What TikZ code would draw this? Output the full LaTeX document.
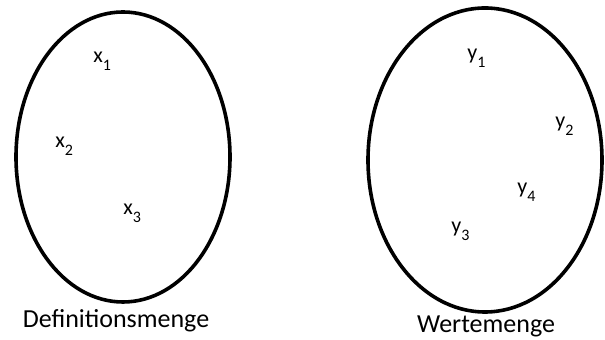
\documentclass[tikz,border=0pt]{standalone}
\usepackage{fontspec}
\setmainfont{Carlito}
\usepackage{xcolor}
\usepackage{tikz}
\usetikzlibrary{positioning}
\definecolor{ink}{HTML}{000000}
\definecolor{paper}{HTML}{FFFFFF}
\newcommand{\elem}[2]{#1\raisebox{-0.35em}{\fontsize{8}{8}\selectfont #2}}

\begin{document}
\begin{tikzpicture}[x=0.5pt,y=-0.5pt,every node/.style={inner sep=0pt,text=ink},
  menge/.style={draw=ink,line width=1.8pt},
  elemlbl/.style={anchor=base west,font=\fontsize{11}{13}\selectfont},
  setname/.style={anchor=base,font=\fontsize{13}{15}\selectfont}]
  \fill[paper] (0,0) rectangle (605,340);
  \useasboundingbox (0,0) rectangle (605,340);
  % the two sets
  \draw[menge] (123,157) ellipse [x radius=107,y radius=145];
  \draw[menge] (485,160) ellipse [x radius=117,y radius=152];
  % elements
  \foreach \n/\px/\py in {1/93/63,2/55/148,3/123/215}{
    \node[elemlbl] (x\n) at (\px,\py) {\elem{x}{\n}};}
  \foreach \n/\px/\py in {1/467/60,2/555/128,3/451/233,4/517/194}{
    \node[elemlbl] (y\n) at (\px,\py) {\elem{y}{\n}};}
  % set names
  \node[setname] (dmenge) at (116,328) {Definitionsmenge};
  \node[setname] (wmenge) at (486,333) {Wertemenge};
\end{tikzpicture}
\end{document}
